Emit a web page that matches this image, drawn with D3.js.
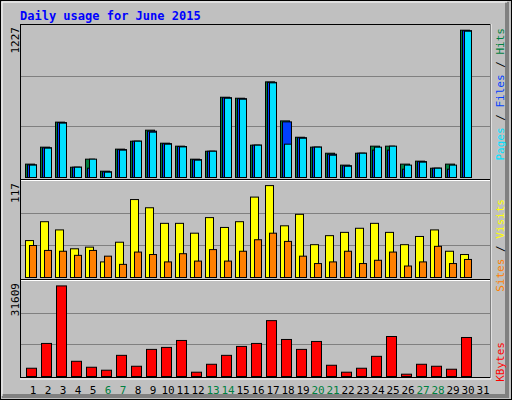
<!DOCTYPE html>
<html><head><meta charset="utf-8">
<script src="https://cdn.jsdelivr.net/npm/d3@7"></script>
<style>body{margin:0;background:#fff}</style>
</head><body>
<svg id="canvas" width="512" height="400"></svg>
<script>
let days = d3.range(1, 32);
let weekend = [6, 7, 13, 14, 20, 21, 27, 28];
let hits = [108,245,447,83,148,51,229,293,382,277,253,148,212,648,640,261,772,457,325,245,196,100,196,253,253,108,132,75,108,1189,0];
let files = [102,240,443,83,75,46,225,293,374,273,250,144,212,644,636,261,768,449,321,245,188,95,196,221,221,67,128,75,67,1185,0];
let pages = [100,237,439,83,148,43,221,293,366,269,247,140,212,640,632,261,764,269,317,245,180,91,196,245,253,100,124,75,100,1181,0];
let visits = [45,68,58,35,37,19,43,95,85,66,66,54,73,61,68,98,112,63,77,40,51,55,60,66,55,40,50,58,32,28,0];
let sites = [39,33,32,27,33,26,16,31,28,19,29,20,34,20,32,46,54,44,26,17,19,32,17,21,31,14,19,38,17,22,0];
let kbytes = [2750,11000,30140,5060,3080,2090,7040,3410,9020,9680,11990,1430,4070,7040,10010,11000,18590,12320,9020,11660,3740,1430,2750,6710,13310,770,4070,3410,2420,12980,0];
let maxHits = 1227, maxVisits = 117, maxKB = 31609;

let svg = d3.select('#canvas');
let font = 'DejaVu Sans Mono';

// frame
svg.append('rect').attr('x',0.5).attr('y',0.5).attr('width',511).attr('height',399).attr('fill','#c0c0c0').attr('stroke','#000');
svg.append('path').attr('d','M507,2V396H2').attr('fill','none').attr('stroke','#808080').attr('stroke-width',4);
svg.append('path').attr('d','M2,396V2H507').attr('fill','none').attr('stroke','#fff').attr('stroke-width',1);

svg.append('text').attr('x',20).attr('y',20).attr('font-family',font).attr('font-weight','bold')
  .attr('font-size',12).attr('fill','#0000ff').text('Daily usage for June 2015');

let x = d3.scaleLinear().domain([1, 2]).range([25, 40]);

let panels = [
  {top:25, bottom:177, max:maxHits, label:maxHits},
  {top:181, bottom:277, max:maxVisits, label:maxVisits},
  {top:281, bottom:376, max:maxKB, label:maxKB}
];
panels.forEach(p => {
  p.y = d3.scaleLinear().domain([0, p.max]).range([p.bottom, p.top]);
  [1/3, 2/3].forEach(f => {
    let gy = Math.round(p.y(p.max * f)) + 0.5;
    svg.append('line').attr('x1',21).attr('x2',490).attr('y1',gy).attr('y2',gy).attr('stroke','#808080').attr('stroke-width',1);
  });
  svg.append('text').attr('transform',`translate(19,${p.top+2}) rotate(-90)`).attr('text-anchor','end')
    .attr('font-family',font).attr('font-size',11).attr('fill','#000').text(p.label);
});

// plot borders
svg.append('rect').attr('x',20.5).attr('y',24.5).attr('width',470).attr('height',353).attr('fill','none').attr('stroke','#000');
svg.append('path').attr('d','M491,24V379H20').attr('fill','none').attr('stroke','#fff').attr('stroke-width',1);
[179.5, 279.5].forEach(sy => {
  svg.append('line').attr('x1',21).attr('x2',490).attr('y1',sy).attr('y2',sy).attr('stroke','#000').attr('stroke-width',1);
  svg.append('line').attr('x1',21).attr('x2',490).attr('y1',sy+1).attr('y2',sy+1).attr('stroke','#fff').attr('stroke-width',1);
});

let drawBars = (vals, p, dx, w, color) => {
  svg.append('g').selectAll('rect').data(vals).enter().filter(v => v > 0).append('rect')
    .attr('x', (v, i) => x(days[i]) + dx + 0.5)
    .attr('y', v => p.y(v) + 0.5)
    .attr('width', w)
    .attr('height', v => p.bottom - p.y(v))
    .attr('fill', color).attr('stroke', '#000');
};
// vals filtered keep index: use explicit data pairs
let drawSeries = (vals, p, dx, w, color) => {
  let data = vals.map((v, i) => ({v, d: days[i]})).filter(o => o.v > 0);
  svg.append('g').selectAll('rect').data(data).enter().append('rect')
    .attr('x', o => x(o.d) + dx + 0.5)
    .attr('y', o => p.y(o.v) + 0.5)
    .attr('width', w)
    .attr('height', o => p.bottom - p.y(o.v))
    .attr('fill', color).attr('stroke', '#000');
};
drawSeries(hits, panels[0], 0, 9, '#008040');
drawSeries(files, panels[0], 2, 9, '#0040ff');
drawSeries(pages, panels[0], 4, 7, '#00e0ff');
drawSeries(visits, panels[1], 0, 8, '#ffff00');
drawSeries(sites, panels[1], 4, 7, '#ff8000');
drawSeries(kbytes, panels[2], 1, 10, '#ff0000');

// day labels
svg.append('g').selectAll('text').data(days).enter().append('text')
  .attr('x', d => x(d) + 8).attr('y', 394).attr('text-anchor','middle')
  .attr('font-family', font).attr('font-size', 11)
  .attr('fill', d => weekend.includes(d) ? '#008040' : '#000').text(d => d);

// right legends
let legend = (yEnd, parts) => {
  let t = svg.append('text').attr('transform',`translate(504,${yEnd}) rotate(-90)`).attr('text-anchor','end')
    .attr('font-family', font).attr('font-size', 11);
  parts.forEach(pt => t.append('tspan').attr('fill', pt[1]).text(pt[0]));
};
legend(28, [['Pages','#00e0ff'],[' / ','#000'],['Files','#0040ff'],[' / ','#000'],['Hits','#008040']]);
legend(199, [['Sites','#ff8000'],[' / ','#000'],['Visits','#ffff00']]);
legend(342, [['KBytes','#ff0000']]);
</script>
</body></html>
